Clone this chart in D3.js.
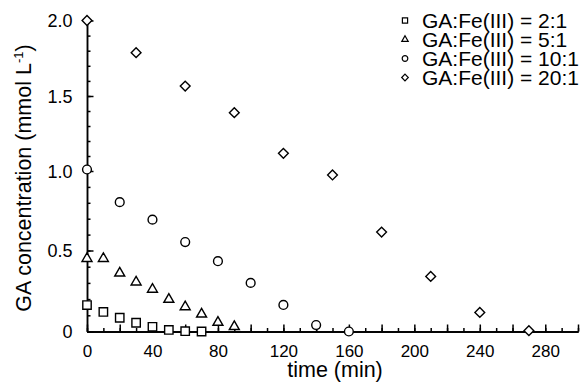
<!DOCTYPE html>
<html>
<head>
<meta charset="utf-8">
<script src="https://cdn.jsdelivr.net/npm/d3@7"></script>
<style>
  html, body { margin: 0; padding: 0; background: #fff; }
  svg { display: block; font-family: "Liberation Sans", Arial, sans-serif; }
</style>
</head>
<body>
<svg id="chart" width="584" height="387"></svg>
<script>
// GA concentration over time at four GA:Fe(III) ratios
const times21  = [0, 10, 20, 30, 40, 50, 60, 70];
const values21 = [0.163, 0.121, 0.085, 0.054, 0.029, 0.010, 0.002, 0.0];

const times51  = [0, 10, 20, 30, 40, 50, 60, 70, 80, 90];
const values51 = [0.45, 0.45, 0.36, 0.305, 0.26, 0.198, 0.152, 0.107, 0.056, 0.03];

const times101  = [0, 20, 40, 60, 80, 100, 120, 140, 160];
const values101 = [1.01, 0.804, 0.694, 0.553, 0.434, 0.30, 0.164, 0.04, 0.0];

const times201  = [0, 30, 60, 90, 120, 150, 180, 210, 240, 270];
const values201 = [2.0, 1.787, 1.566, 1.389, 1.118, 0.975, 0.616, 0.34, 0.118, 0.005];

const seriesNames = ["GA:Fe(III) = 2:1", "GA:Fe(III) = 5:1", "GA:Fe(III) = 10:1", "GA:Fe(III) = 20:1"];

const xTickLabels = [0, 40, 80, 120, 160, 200, 240, 280];
const yTickLabels = [0, 0.5, 1.0, 1.5, 2.0];

// open marker shapes; size is the half-width in px
const shapeSquare = { draw(ctx, s) { ctx.rect(-s, -s, 2 * s, 2 * s); } };
const shapeCircle = { draw(ctx, s) { ctx.moveTo(s, 0); ctx.arc(0, 0, s, 0, 2 * Math.PI); } };
const shapeTriangle = { draw(ctx, s) {
  const h = s * Math.sqrt(3);
  ctx.moveTo(0, -2 * h / 3); ctx.lineTo(s, h / 3); ctx.lineTo(-s, h / 3); ctx.closePath();
} };
const shapeDiamond = { draw(ctx, s) {
  ctx.moveTo(0, -s); ctx.lineTo(s, 0); ctx.lineTo(0, s); ctx.lineTo(-s, 0); ctx.closePath();
} };

const series = [
  { name: seriesNames[0], t: times21,  v: values21,  shape: shapeSquare,   r: 4.2, rl: 2.6 },
  { name: seriesNames[1], t: times51,  v: values51,  shape: shapeTriangle, r: 5.0, rl: 3.2 },
  { name: seriesNames[2], t: times101, v: values101, shape: shapeCircle,   r: 4.4, rl: 2.8 },
  { name: seriesNames[3], t: times201, v: values201, shape: shapeDiamond,  r: 4.9, rl: 3.3 }
];

const svg = d3.select("#chart");

const x = d3.scaleLinear().domain([0, 300]).range([87, 578]);
const y = d3.scaleLinear().domain([0, 0.5, 1.0, 1.5, 2.0]).range([331.5, 250.5, 171, 96, 20.5]);

const x0 = x.range()[0];
const yBase = y(0);

// x axis: minor ticks every 10, tall ticks every 20, labels every 40
const gx = svg.append("g").attr("transform", `translate(0,${yBase})`);
gx.append("g").call(d3.axisBottom(x).tickValues(d3.range(0, 301, 10)).tickSizeInner(-3.5).tickSizeOuter(0).tickFormat(""));
gx.append("g").call(d3.axisBottom(x).tickValues(d3.range(0, 301, 20)).tickSizeInner(-7).tickSizeOuter(0).tickFormat(""));
gx.append("g").call(d3.axisBottom(x).tickValues(xTickLabels).tickSizeInner(0).tickSizeOuter(0).tickPadding(13.5).tickFormat(d3.format("d")));

// y axis: minor ticks every 0.1, labelled ticks every 0.5
const gy = svg.append("g").attr("transform", `translate(${x0},0)`);
gy.append("g").call(d3.axisLeft(y).tickValues(d3.range(0, 21).map(i => i / 10)).tickSizeInner(-3.5).tickSizeOuter(0).tickFormat(""));
gy.append("g").call(d3.axisLeft(y).tickValues(yTickLabels).tickSizeInner(-6.5).tickSizeOuter(0).tickPadding(14.5)
  .tickFormat(d => d === 0 ? "0" : d3.format(".1f")(d)));

svg.selectAll(".domain, .tick line").attr("stroke", "#000").attr("stroke-width", 1.5);
svg.selectAll(".tick text").attr("fill", "#000")
  .attr("font-family", "'Liberation Sans', Arial, sans-serif");
gx.selectAll(".tick text").attr("font-size", 17);
gy.selectAll(".tick text").attr("font-size", 18).attr("dy", "0.36em");

// axis titles
svg.append("text")
  .attr("x", 335).attr("y", 377)
  .attr("text-anchor", "middle").attr("font-size", 21.5).attr("fill", "#000")
  .text("time (min)");

const yTitle = svg.append("text")
  .attr("transform", "translate(30.5,178) rotate(-90)")
  .attr("text-anchor", "middle").attr("font-size", 21.5).attr("fill", "#000");
yTitle.append("tspan").text("GA concentration (mmol L");
yTitle.append("tspan").attr("font-size", 13).attr("dy", -8).text("-1");
yTitle.append("tspan").attr("dy", 8).text(")");

// data markers
const sym = d3.symbol();
series.forEach(s => {
  svg.append("g").selectAll("path")
    .data(s.t.map((t, i) => [t, s.v[i]]))
    .join("path")
    .attr("transform", d => `translate(${x(d[0])},${y(d[1])})`)
    .attr("d", sym.type(s.shape).size(s.r)())
    .attr("fill", "#fff").attr("stroke", "#000").attr("stroke-width", 1.4);
});

// legend
const legend = svg.append("g");
series.forEach((s, i) => {
  const ry = 20.5 + i * 19;
  legend.append("path")
    .attr("transform", `translate(405,${ry})`)
    .attr("d", d3.symbol().type(s.shape).size(s.rl)())
    .attr("fill", "#fff").attr("stroke", "#000").attr("stroke-width", 1.2);
  legend.append("text")
    .attr("x", 422).attr("y", ry + 7.5)
    .attr("font-size", 21).attr("fill", "#000")
    .text(s.name);
});
</script>
</body>
</html>
